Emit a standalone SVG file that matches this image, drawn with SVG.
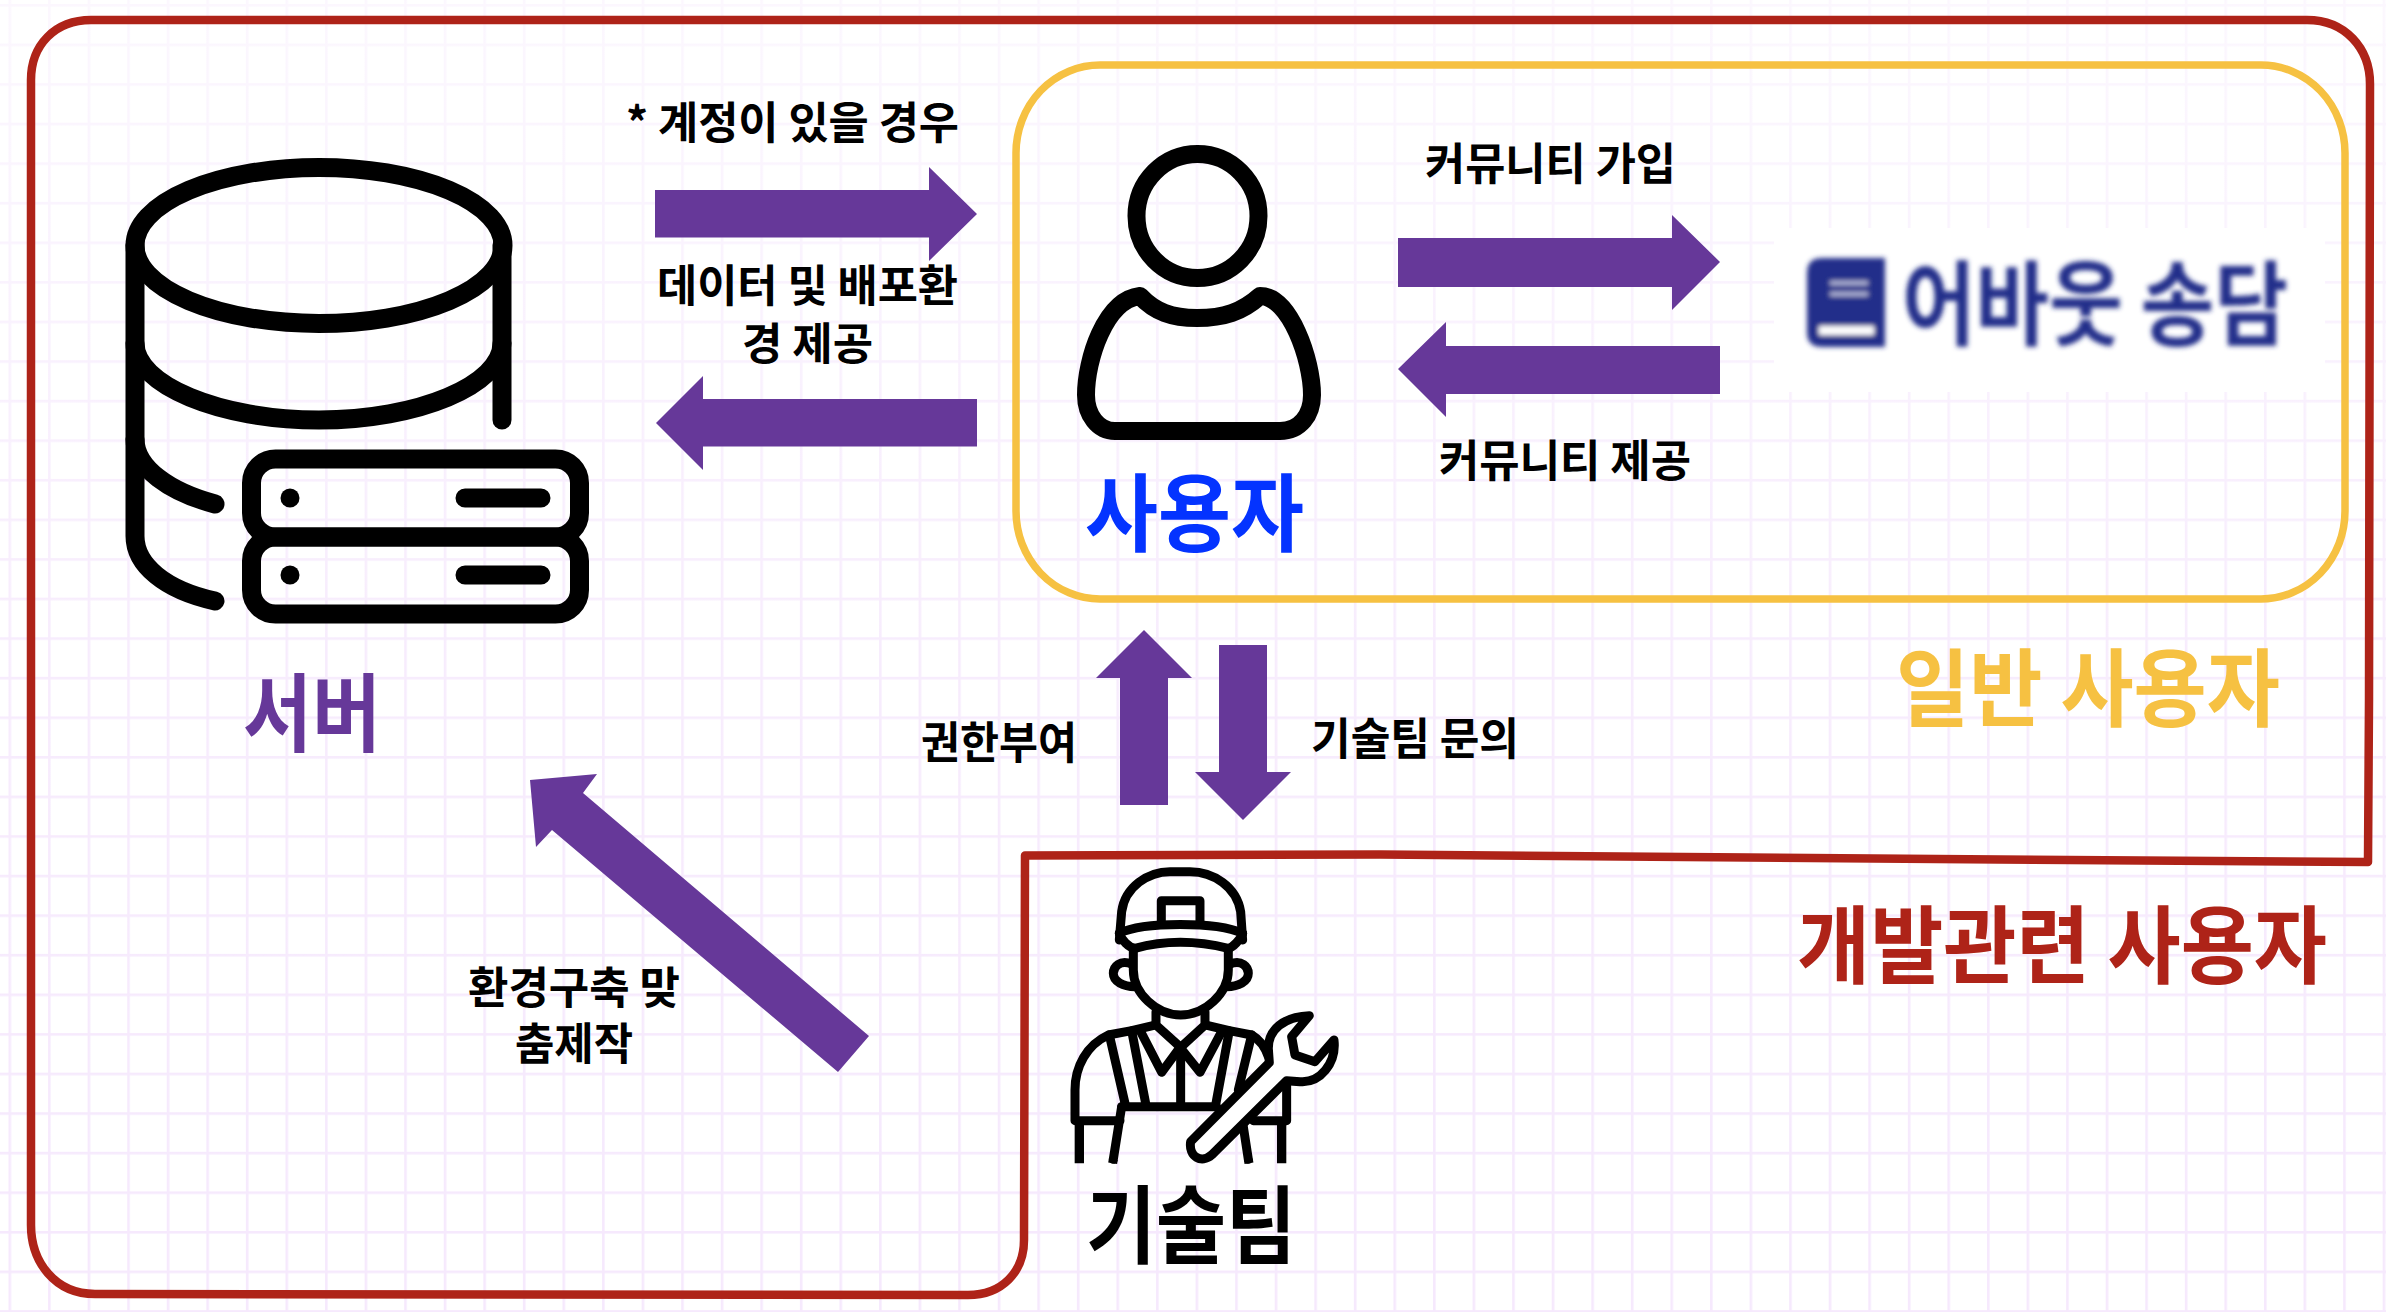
<svg xmlns="http://www.w3.org/2000/svg" width="2386" height="1312" viewBox="0 0 2386 1312">
<style>
text{font-family:"Noto Sans CJK KR","Noto Sans",sans-serif;font-weight:700;fill:#000}
.sm{font-size:44px}
.lg{font-size:85px}
.arrow{fill:#663899}
.ic{fill:none;stroke:#000;stroke-linecap:round;stroke-linejoin:round}
</style>
<defs>
<pattern id="gridp" x="8.5" y="4" width="39.57" height="39.58" patternUnits="userSpaceOnUse">
<rect x="0" y="0" width="2.6" height="39.58" fill="#F6E9FD"/>
<rect x="0" y="0" width="39.57" height="2.6" fill="#F6E9FD"/>
</pattern>
<linearGradient id="fade" x1="0" y1="0" x2="0" y2="1">
<stop offset="0" stop-color="#fff" stop-opacity="0.65"/>
<stop offset="0.5" stop-color="#fff" stop-opacity="0.15"/>
<stop offset="1" stop-color="#fff" stop-opacity="0"/>
</linearGradient>
<filter id="blur" x="-5%" y="-5%" width="110%" height="110%"><feGaussianBlur stdDeviation="2.4"/></filter>
</defs>
<rect width="2386" height="1312" fill="#fff"/>
<rect width="2386" height="1312" fill="url(#gridp)"/>
<rect width="2386" height="1312" fill="url(#fade)"/>

<g id="group-dev" fill="none" stroke="#AE2318" stroke-width="8.5" stroke-linejoin="round">
<path d="M91 20 L2307 20 C2345 20 2370 48 2370 84 L2369 700 L2368 862 L2000 859.5 L1380 854.5 L1025 855.5 L1024 1240 C1024 1272 1002 1295 968 1295 L95 1294 C55 1294 31 1262 31 1225 L31 80 C31 45 55 20 91 20 Z"/>
</g>
<g id="group-user" fill="none" stroke="#F6C142" stroke-width="7.5">
<rect x="1016" y="65" width="1329" height="534" rx="84" ry="88"/>
</g>

<g id="server">
<g class="ic" stroke-width="19">
<ellipse cx="319" cy="245.5" rx="184" ry="78"/>
<path d="M135 245 L135 536 C135 565 165 590 215 601"/>
<path d="M135 343 C135 385 220 420 319 420 C418 420 502 385 502 343"/>
<path d="M502 245 L502 420"/>
<path d="M135 439 C135 468 170 492 215 504"/>
<rect x="251.5" y="459" width="328" height="78" rx="24"/>
<rect x="251.5" y="537" width="328" height="77" rx="24"/>
<path d="M465 498 L541 498 M465 575 L541 575"/>
</g>
<ellipse cx="290" cy="498" rx="9.5" ry="9.5"/>
<ellipse cx="290" cy="575" rx="9.5" ry="9.5"/>
<text x="243" y="745" class="lg" textLength="138" lengthAdjust="spacingAndGlyphs" style="fill:#663899">서버</text>
</g>

<g id="user">
<ellipse class="ic" cx="1197.5" cy="216" rx="61" ry="62" stroke-width="18"/>
<path class="ic" stroke-width="18" d="M1140 296 C1155 312 1172 318 1197 318 C1224 318 1242 312 1260 296 C1290 296 1312 360 1312 395 C1312 415 1300 431 1280 431 L1115 431 C1098 431 1086 415 1086 395 C1086 360 1105 300 1140 296 Z"/>
<text x="1085" y="545" class="lg" textLength="219" lengthAdjust="spacingAndGlyphs" style="fill:#0433FF">사용자</text>
</g>

<g id="logo">
<rect x="1774" y="228" width="551" height="164" fill="#fff"/>
<g filter="url(#blur)">
<path d="M1822 258 L1885 258 L1885 347 L1822 347 Q1807 347 1807 332 L1807 273 Q1807 258 1822 258 Z" fill="#242E8A"/>
<rect x="1819" y="326" width="55" height="9" fill="#fff"/>
<rect x="1830" y="281" width="38" height="4" fill="#B8BCDC"/>
<rect x="1830" y="292" width="38" height="4" fill="#B8BCDC"/>
<text x="1902" y="338" font-size="92" textLength="386" lengthAdjust="spacingAndGlyphs" style="fill:#242E8A;font-weight:700">어바웃 송담</text>
</g>
</g>

<g id="worker">
<g transform="translate(1020 840) scale(0.3333)">
<g class="ic" stroke-width="27">
<path d="M298 300 L305 215 C315 140 385 95 450 95 L510 95 C580 95 650 140 662 215 L668 300"/>
<path d="M424 250 L424 182 L540 182 L540 250"/>
<path d="M298 280 C370 245 590 245 668 280"/>
<path d="M298 280 C305 300 325 322 345 325 C430 302 530 302 625 325 C640 322 660 300 668 280"/>
<path d="M335 372 C300 358 280 380 280 400 C280 425 310 440 345 440"/>
<path d="M630 372 C665 358 685 380 685 400 C685 425 655 440 620 440"/>
<path d="M340 330 L340 390 C340 460 410 525 482 525 C555 525 625 460 625 390 L625 330"/>
<path d="M408 515 L408 555 L482 622 L555 555 L555 515"/>
<path d="M408 555 L335 572 L265 585 C200 615 165 680 165 750 L165 842 L300 842"/>
<path d="M555 555 L628 572 L695 585 C720 600 735 620 745 650"/>
<path d="M800 735 L800 842 L700 842"/>
<path d="M268 585 L315 790 M335 572 L377 790"/>
<path d="M628 572 L588 790 M695 585 L655 750"/>
<path d="M362 575 L425 697 L480 622 L540 697 L605 575"/>
<path d="M482 622 L482 790"/>
<path d="M305 800 L590 800"/>
<path d="M305 800 L280 958 M670 860 L685 958"/>
</g>
<path d="M178 842 L178 970 M785 842 L785 970" stroke="#000" stroke-width="28" fill="none"/>
<path d="M280 958 L278 970 M685 958 L687 970" stroke="#000" stroke-width="27" fill="none"/>
<path class="ic" stroke-width="27" style="fill:#fff" d="M748 668 L745 625 C745 570 790 530 868 527 L815 590 L825 645 L885 665 L942 600 C950 670 900 730 840 725 L800 722 L575 945 C545 972 505 950 512 905 Z"/>
</g>
<text x="1086" y="1257" class="lg" textLength="210" lengthAdjust="spacingAndGlyphs">기술팀</text>
</g>

<g id="connectors">
<polygon class="arrow" points="655,190 929,190 929,167 977,214 929,261 929,237.5 655,237.5"/>
<polygon class="arrow" points="977,399 703,399 703,376 656,423 703,470 703,446.5 977,446.5"/>
<polygon class="arrow" points="1398,238 1672,238 1672,215 1720,262 1672,310 1672,287 1398,287"/>
<polygon class="arrow" points="1720,346 1446,346 1446,322 1398,369 1446,417 1446,394 1720,394"/>
<polygon class="arrow" points="1120,805 1120,678 1096,678 1144,630 1192,678 1168,678 1168,805"/>
<polygon class="arrow" points="1219,645 1219,772 1195,772 1243,820 1291,772 1267,772 1267,645"/>
<polygon class="arrow" points="530,780 597,774 583,793 869,1036 838,1072 552,830 536,847"/>
</g>

<g id="labels">
<text x="626" y="139" class="sm" textLength="333" lengthAdjust="spacingAndGlyphs">* 계정이 있을 경우</text>
<text x="657" y="302" class="sm" textLength="301" lengthAdjust="spacingAndGlyphs">데이터 및 배포환</text>
<text x="742" y="360" class="sm" textLength="131" lengthAdjust="spacingAndGlyphs">경 제공</text>
<text x="1425" y="180" class="sm" textLength="251" lengthAdjust="spacingAndGlyphs">커뮤니티 가입</text>
<text x="1439" y="477" class="sm" textLength="252" lengthAdjust="spacingAndGlyphs">커뮤니티 제공</text>
<text x="921" y="759" class="sm" textLength="156" lengthAdjust="spacingAndGlyphs">권한부여</text>
<text x="1311" y="755" class="sm" textLength="208" lengthAdjust="spacingAndGlyphs">기술팀 문의</text>
<text x="468" y="1004" class="sm" textLength="212" lengthAdjust="spacingAndGlyphs">환경구축 맞</text>
<text x="515" y="1060" class="sm" textLength="118" lengthAdjust="spacingAndGlyphs">춤제작</text>
<text x="1896" y="720" class="lg" textLength="384" lengthAdjust="spacingAndGlyphs" style="fill:#F6C142">일반 사용자</text>
<text x="1797" y="977" class="lg" textLength="530" lengthAdjust="spacingAndGlyphs" style="fill:#AE2318">개발관련 사용자</text>
</g>
</svg>
